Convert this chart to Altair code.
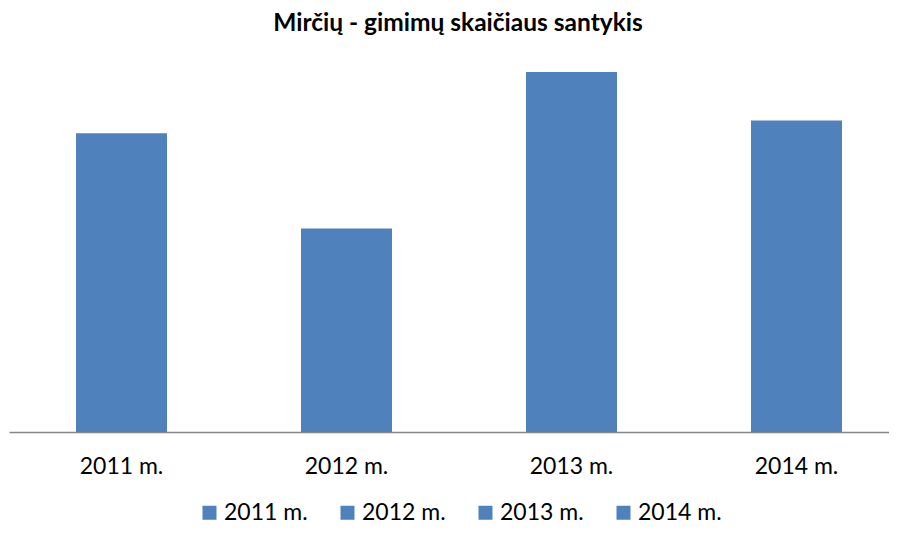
import altair as alt
import pandas as pd

years = ["2011 m.", "2012 m.", "2013 m.", "2014 m."]
ratios = [1.66, 1.13, 2.00, 1.73]

df = pd.DataFrame({"metai": years, "santykis": ratios})

BLUE = "#4F81BD"
FONT = "Lato"

chart = alt.Chart(df).mark_bar(color=BLUE).encode(
    x=alt.X(
        "metai:N",
        sort=years,
        scale=alt.Scale(paddingInner=0.5956, paddingOuter=0.25335, align=0.5877),
        axis=alt.Axis(
            title=None, labelAngle=0, ticks=False, domainColor="#868686",
            domainWidth=1.5, labelFontSize=23, labelFont=FONT, labelColor="#000000",
            labelPadding=23, grid=False,
        ),
    ),
    y=alt.Y(
        "santykis:Q",
        scale=alt.Scale(domain=[0, 2.0], nice=False),
        axis=None,
    ),
    color=alt.Color(
        "metai:N",
        sort=years,
        scale=alt.Scale(domain=years, range=[BLUE] * 4),
        legend=alt.Legend(
            title=None, orient="none", legendX=189, legendY=429,
            direction="horizontal", padding=0,
            symbolType="square", symbolSize=196, symbolStrokeWidth=0,
            labelFont=FONT, labelFontSize=23, labelColor="#000000",
            labelOffset=3, columnPadding=28,
        ),
    ),
).properties(
    width=880,
    height=360,
    autosize=alt.AutoSizeParams(type="none"),
    padding={"left": 1, "right": 0, "top": 64, "bottom": 94},
    title=alt.TitleParams(
        "Mirčių - gimimų skaičiaus santykis",
        font=FONT, fontSize=24.5, fontWeight="bold", color="#000000",
        anchor="middle", offset=36, dx=9,
    ),
).configure_view(stroke=None)

chart.save("out.html", embed_options={"renderer": "svg", "actions": False})
